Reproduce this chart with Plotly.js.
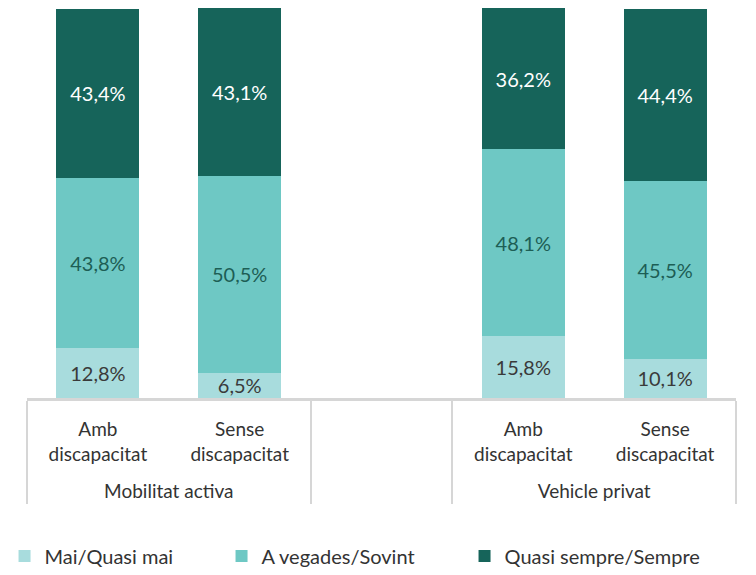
<!DOCTYPE html>
<html>
<head>
<meta charset="utf-8">
<script src="https://cdn.plot.ly/plotly-3.0.1.min.js"></script>
<style>html,body{margin:0;padding:0;background:#fff;}#chart{width:756px;height:575px;}</style>
</head>
<body>
<div id="chart"></div>
<script>
const groups = ['Mobilitat activa', 'Mobilitat activa', ' ', 'Vehicle privat', 'Vehicle privat'];
const subcats = ['Amb<br>discapacitat<br> ', 'Sense<br>discapacitat<br> ', ' ', 'Amb<br>discapacitat<br> ', 'Sense<br>discapacitat<br> '];
const seriesNames = ['Mai/Quasi mai', 'A vegades/Sovint', 'Quasi sempre/Sempre'];
const maiQuasiMai = [12.8, 6.5, null, 15.8, 10.1];
const aVegadesSovint = [43.8, 50.5, null, 48.1, 45.5];
const quasiSempre = [43.4, 43.1, null, 36.2, 44.4];

const colors = ['#a8dcdd', '#6ec8c4', '#16645a'];
const textColors = ['#3a3a3a', '#1d5e55', '#ffffff'];
const legendWidths = [172, 198, 200];
const values = [maiQuasiMai, aVegadesSovint, quasiSempre];

const FONT = 'Lato, "Open Sans", sans-serif';
const traces = values.map((v, i) => ({
  type: 'bar',
  name: seriesNames[i],
  x: [groups, subcats],
  y: v,
  marker: {color: colors[i], line: {width: 0}},
  texttemplate: '%{y:.1f}%',
  textposition: 'inside',
  insidetextanchor: 'middle',
  constraintext: 'none',
  textangle: 0,
  textfont: {family: FONT, size: 20, color: textColors[i]},
  legendwidth: legendWidths[i],
  hoverinfo: 'skip'
}));

const layout = {
  width: 756, height: 575,
  margin: {l: 27, r: 20, t: 8, b: 177, autoexpand: false},
  barmode: 'stack',
  bargap: 0.415,
  separators: ',.',
  paper_bgcolor: '#ffffff',
  plot_bgcolor: '#ffffff',
  font: {family: FONT, size: 19, color: '#333333'},
  showlegend: true,
  legend: {
    orientation: 'h', x: 0.006, xanchor: 'left', xref: 'container',
    y: 0.067, yanchor: 'top', yref: 'container',
    font: {family: FONT, size: 20, color: '#333333'},
    traceorder: 'normal'
  },
  xaxis: {
    type: 'multicategory',
    showline: true, linecolor: '#d6d6d6', linewidth: 3,
    showdividers: true, dividercolor: '#d6d6d6', dividerwidth: 2,
    ticks: '', ticklabelstandoff: 12, showgrid: false,
    tickfont: {family: FONT, size: 19, color: '#333333'}
  },
  yaxis: {
    range: [0, 100.15], visible: false, showgrid: false, zeroline: false, fixedrange: true
  }
};

Plotly.newPlot('chart', traces, layout, {displayModeBar: false, staticPlot: true});
</script>
</body>
</html>
